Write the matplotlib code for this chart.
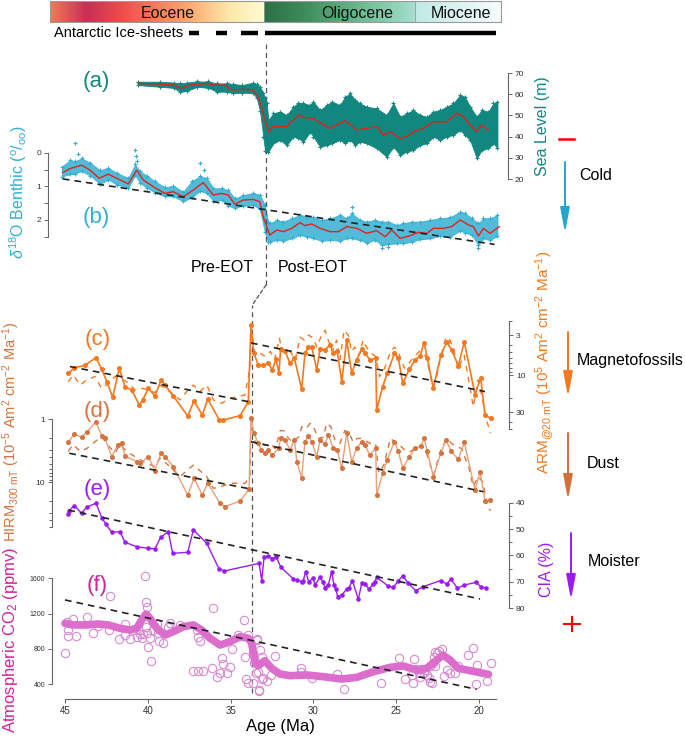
import numpy as np
import matplotlib
matplotlib.use('Agg')
import matplotlib.pyplot as plt
from matplotlib.colors import LinearSegmentedColormap
from matplotlib.patches import ConnectionPatch, FancyArrowPatch
from matplotlib.lines import Line2D
from matplotlib.ticker import FixedLocator, FixedFormatter, NullFormatter

plt.rcParams['font.family'] = ['Liberation Sans', 'DejaVu Sans']
plt.rcParams['mathtext.fontset'] = 'custom'
plt.rcParams['mathtext.rm'] = 'Liberation Sans'
plt.rcParams['mathtext.it'] = 'Liberation Sans:italic'
plt.rcParams['mathtext.bf'] = 'Liberation Sans:bold'

# ---------------- data ----------------
epochs = ['Eocene', 'Oligocene', 'Miocene']
epoch_edges = [0, 47.4, 80.9, 100]          # % along the time bar
epoch_label_x = [26.2, 68.1, 91.1]
epoch_colors = [
    ['#f47a58', '#c92f55', '#ee4b4c', '#fb7c58', '#fcae74', '#fde6a8', '#fffbd2'],
    ['#2c6f47', '#3d8a59', '#58aa7b', '#7cc7a4', '#a6dfd0'],
    ['#bfeae5', '#dcf4f1', '#f7fdfc'],
]

ice_dashed = [(37.94, 37.39), (36.46, 35.85), (35.08, 34.14)]
ice_solid = (33.75, 21.02)
eot_age = 33.7

# (a) sea level: scatter envelope + smoothed curve
sl_age = [40.74, 39.54, 38.80, 38.44, 38.07, 37.50, 36.88, 36.40, 35.87, 35.50, 35.00, 34.40, 34.20, 34.03, 33.85, 33.75,
          33.66, 33.57, 33.30, 32.93, 32.56, 32.19, 31.92, 31.64, 31.27, 31.09, 30.72, 30.35, 30.08, 29.62, 29.34, 29.07,
          28.79, 28.52, 28.15, 27.60, 27.05, 26.68, 26.31, 25.94, 25.58, 25.21, 24.84, 24.47, 24.11, 23.74, 23.37, 23.00,
          22.73, 22.45, 22.08, 21.81, 21.44, 21.16, 20.94]
sl_hi = [65.9, 65.9, 65.5, 65.1, 65.5, 66.0, 66.0, 65.1, 65.1, 64.8, 64.3, 65.5, 64.8, 63.5, 60.4, 58.0,
         55.7, 47.8, 51.0, 51.8, 50.2, 54.1, 56.0, 55.7, 54.9, 56.5, 52.5, 54.9, 56.5, 54.9, 58.8, 60.4,
         57.3, 55.7, 54.1, 53.3, 50.2, 55.7, 49.4, 51.0, 52.5, 50.2, 49.4, 51.8, 52.5, 54.1, 55.7, 59.6,
         58.8, 54.1, 49.4, 52.5, 51.8, 55.7, 56.5]
sl_lo = [64.3, 63.5, 63.0, 61.2, 61.5, 63.5, 63.0, 61.2, 61.2, 60.4, 60.8, 60.4, 58.0, 52.0, 40.0, 33.0,
         33.7, 32.9, 36.8, 38.4, 36.0, 40.0, 39.2, 37.6, 42.3, 40.0, 35.2, 36.0, 36.8, 38.4, 36.8, 38.4,
         36.0, 37.6, 36.8, 34.5, 30.5, 35.2, 31.3, 32.9, 33.7, 36.0, 36.8, 40.0, 38.4, 40.0, 40.8, 43.1,
         40.8, 38.4, 29.7, 33.7, 34.5, 36.8, 34.5]
sl_sm_age = [40.76, 39.54, 38.8, 38.35, 37.9, 36.97, 36.6, 35.96, 35.6, 34.77, 34.4, 34.13, 33.85, 33.57, 33.3,
             33.1, 32.56, 31.9, 31.64, 31.1, 30.72, 30.17, 29.34, 28.7, 28.15, 27.6, 27.23, 26.86, 26.31, 25.94,
             25.58, 25.03, 24.48, 23.74, 23.19, 22.82, 22.45, 22.09, 21.81, 21.45]
sl_sm = [65.1, 64.8, 64.3, 62.8, 64.3, 65.1, 64.3, 64.3, 62.0, 62.3, 62.0, 58.8, 51.0, 42.3, 44.7,
         44.7, 44.7, 50.2, 49.1, 48.6, 46.6, 43.9, 47.5, 43.1, 43.9, 44.7, 40.8, 42.3, 39.2, 40.0,
         42.3, 43.9, 47.0, 47.0, 51.0, 49.4, 45.5, 42.3, 45.5, 43.1]

# (b) benthic d18O: scatter envelope, isolated outliers, smoothed curve
d18_age = [44.96, 44.5, 44.23, 43.86, 43.4, 42.85, 42.39, 41.93, 41.29, 40.92, 40.65, 40.28, 39.82, 39.27, 38.81,
           38.26, 37.8, 37.34, 36.97, 36.6, 36.15, 35.79, 35.42, 34.96, 34.41, 34.04, 33.77, 33.59, 33.48, 33.11,
           32.74, 32.28, 31.82, 31.45, 31.09, 30.63, 30.17, 29.62, 29.25, 28.98, 28.52, 28.15, 27.69, 27.32, 26.96,
           26.50, 26.13, 25.67, 25.21, 24.66, 24.11, 23.55, 23.00, 22.73, 22.36, 21.99, 21.72, 21.35, 20.94]
d18_top = [0.42, 0.22, 0.25, 0.17, 0.30, 0.52, 0.45, 0.60, 0.75, 0.35, 0.55, 0.68, 0.85, 1.03, 0.98,
           1.16, 0.85, 0.70, 0.75, 1.06, 1.06, 1.11, 1.36, 1.26, 1.20, 1.25, 1.55, 2.05, 2.10, 2.00,
           2.05, 1.95, 1.85, 1.90, 1.92, 2.00, 1.95, 1.85, 1.95, 1.80, 2.00, 2.05, 2.00, 2.05, 2.05,
           2.15, 2.10, 2.05, 2.05, 2.00, 1.95, 1.92, 1.75, 1.80, 1.95, 2.10, 1.95, 1.95, 1.85]
d18_bot = [0.71, 0.64, 0.62, 0.55, 0.68, 0.93, 0.80, 0.95, 1.05, 0.66, 0.90, 1.04, 1.19, 1.30, 1.30,
           1.45, 1.33, 1.14, 1.20, 1.44, 1.40, 1.58, 1.64, 1.58, 1.55, 1.68, 2.35, 2.65, 2.65, 2.60,
           2.62, 2.55, 2.45, 2.50, 2.55, 2.62, 2.60, 2.62, 2.55, 2.55, 2.60, 2.68, 2.60, 2.75, 2.72,
           2.70, 2.70, 2.65, 2.58, 2.55, 2.48, 2.50, 2.32, 2.38, 2.45, 2.75, 2.55, 2.60, 2.48]
d18_out_age = [44.23, 44.05, 40.92, 40.88, 40.8, 37.34, 37.1, 28.98, 27.32, 26.96, 21.99]
d18_out = [-0.28, 0.05, -0.08, 0.10, 0.25, 0.32, 0.50, 1.61, 2.85, 2.80, 2.85]
d18_sm_age = [44.9, 44.5, 43.86, 43.4, 42.9, 42.4, 41.93, 41.29, 40.83, 40.47, 39.92, 39.28, 38.82, 38.26, 37.71,
              37.16, 36.61, 36.15, 35.79, 35.42, 34.96, 34.41, 34.04, 33.86, 33.49, 33.11, 32.74, 32.28, 31.82,
              31.55, 31.18, 30.72, 30.17, 29.71, 29.25, 28.70, 28.15, 27.60, 27.14, 26.77, 26.31, 25.76, 25.30,
              24.84, 24.47, 23.92, 23.46, 23.00, 22.54, 22.27, 21.99, 21.72, 21.35, 20.84]
d18_sm = [0.59, 0.47, 0.37, 0.52, 0.76, 0.64, 0.76, 0.93, 0.52, 0.81, 1.01, 1.21, 1.16, 1.31, 1.11,
          0.89, 1.26, 1.21, 1.26, 1.53, 1.41, 1.39, 1.46, 1.90, 2.45, 2.30, 2.35, 2.25, 2.08,
          2.17, 2.12, 2.25, 2.35, 2.35, 2.20, 2.25, 2.40, 2.32, 2.50, 2.30, 2.55, 2.47, 2.37,
          2.40, 2.25, 2.25, 2.20, 2.00, 2.15, 2.20, 2.48, 2.25, 2.40, 2.20]
d18_trend = ([44.9, 21.1], [0.78, 2.73])

# (c) ARM@20mT (solid with dots, and dashed companion record)
arm_age = [44.8, 44.44, 43.79, 43.13, 42.78, 42.48, 42.12, 41.72, 41.38, 40.97, 40.51, 40.31, 39.97, 39.57, 39.2,
           38.96, 38.46, 37.59, 37.21, 36.71, 36.38, 35.68, 35.44, 34.43, 33.93, 33.77, 33.59, 33.33, 33.02, 32.72,
           32.48, 32.26, 32.08, 31.98, 31.71, 31.41, 31.15, 30.71, 30.51, 30.31, 30.1, 29.8, 29.6, 29.3, 29.0,
           28.8, 28.56, 28.29, 27.99, 27.69, 27.39, 27.08, 26.88, 26.58, 26.24, 26.18, 25.82, 25.54, 25.11, 24.87,
           24.61, 24.21, 23.86, 23.56, 23.32, 23.12, 22.76, 22.31, 21.95, 21.65, 21.25, 20.89, 20.24, 19.9, 19.64,
           19.3]
arm = [9.4, 8.0, 7.4, 5.9, 8.4, 12.1, 19.3, 8.1, 14.1, 15.5, 24.3, 20.9, 14.8, 18.6, 11.5,
       13.4, 18.6, 33.8, 21.6, 32.8, 20.5, 38.1, 38.1, 33.5, 22.0, 2.2, 5.2, 7.4, 7.4, 7.0,
       8.5, 6.2, 9.4, 4.5, 4.9, 7.0, 6.0, 15.2, 5.2, 4.3, 4.3, 8.5, 4.5, 4.7, 4.0,
       5.2, 4.9, 12.1, 3.5, 9.4, 6.3, 4.6, 5.2, 6.3, 6.0, 28.3, 14.1, 9.4, 5.2, 6.0,
       12.7, 8.4, 6.3, 5.6, 3.8, 6.0, 14.8, 5.5, 3.7, 4.7, 7.5, 3.7, 18.0, 10.7, 32.8,
       36.3]
alt_age_pre = [44.8, 44.5, 44.09, 43.69, 43.19, 42.79, 42.38, 41.98, 41.68, 41.28, 40.77, 40.27, 39.57, 39.26, 38.66,
               38.06, 37.65, 37.25, 36.85, 36.44, 36.04, 35.54, 35.04, 34.13, 33.83]
arm_alt_age = alt_age_pre + [
    33.77, 33.5, 33.2, 32.9, 32.6, 32.35, 32.05, 31.9, 31.6, 31.4, 31.1, 30.8, 30.55, 30.3, 30.0,
    29.8, 29.5, 29.3, 29.1, 28.85, 28.6, 28.4, 28.15, 27.9, 27.7, 27.5, 27.25, 27.0, 26.8, 26.5,
    26.25, 26.0, 25.7, 25.35, 25.1, 24.8, 24.5, 24.25, 23.9, 23.6, 23.3, 23.1, 22.8, 22.6, 22.35,
    22.0, 21.75, 21.5, 21.25, 20.9, 20.55, 20.35, 20.05, 19.8, 19.55, 19.3]
arm_alt = [12.1, 9.9, 13.4, 11.5, 10.4, 14.8, 12.7, 10.4, 11.0, 12.1, 15.5, 14.8, 16.8, 13.4, 16.3,
           20.9, 16.3, 13.4, 16.3, 13.4, 20.9, 23.1, 19.9, 18.0, 8.0,
           2.6, 5.5, 5.2, 5.7, 4.9, 6.3, 3.3, 4.9, 5.2, 4.9, 6.3, 3.2, 3.5, 3.0, 3.3,
           4.3, 3.0, 2.6, 3.5, 4.9, 3.5, 6.3, 2.6, 3.0, 4.9, 4.3, 5.5, 3.5, 4.3, 5.2,
           5.7, 10.4, 8.1, 5.0, 4.3, 5.5, 8.1, 7.0, 5.7, 4.9, 5.2, 7.0, 14.1, 11.5, 6.3,
           3.2, 3.5, 4.9, 8.1, 5.5, 14.1, 25.6, 11.5, 20.0, 38.1, 56.8]
arm_trend_pre = ([44.7, 33.93], [7.7, 22.0])
arm_trend_post = ([33.77, 19.64], [3.8, 16.3])

# (d) HIRM300mT
hirm_age = [44.8, 44.44, 44.0, 43.7, 43.13, 42.78, 42.58, 42.18, 41.82, 41.58, 41.38, 40.67, 40.47, 39.97, 39.57,
            39.2, 38.96, 38.46, 37.59, 37.21, 36.71, 36.38, 35.64, 35.34, 34.43, 33.89, 33.77,
            33.59, 33.33, 33.14, 32.95, 32.72, 32.48, 32.1, 31.98, 31.71, 31.41, 31.15, 31.0, 30.71, 30.51, 30.31,
            30.1, 29.8, 29.6, 29.3, 29.1, 28.8, 28.56, 28.29, 27.99, 27.69, 27.39, 27.08, 26.88, 26.6, 26.24,
            26.18, 25.82, 25.54, 25.11, 24.87, 24.61, 24.21, 23.86, 23.5, 23.32, 23.12, 22.76, 22.31, 21.99, 21.68,
            21.25, 20.89, 20.24, 19.94, 19.64, 19.32]
hirm = [2.30, 1.70, 1.92, 1.60, 1.08, 1.83, 2.0, 3.89, 2.54, 2.39, 3.80, 4.67, 4.97, 3.89, 6.49,
        3.36, 3.89, 5.61, 15.8, 8.59, 15.8, 10.3, 21.4, 24.2, 19.7, 12.8, 0.95,
        1.66, 2.39, 3.05, 3.44, 3.1, 3.66, 2.87, 2.0, 2.1, 3.05, 2.1, 4.67, 8.6, 2.25, 1.83,
        2.25, 3.89, 2.1, 2.45, 1.76, 2.87, 3.05, 5.96, 1.62, 4.67, 2.87, 2.25, 2.55, 3.66, 2.87,
        15.8, 7.15, 4.4, 2.25, 3.2, 5.96, 3.89, 2.87, 2.64, 2.0, 3.2, 8.08, 3.44, 2.1, 3.2,
        4.29, 2.3, 13.2, 6.73, 19.5, 18.8]
hirm_alt_age = alt_age_pre + [
    33.77, 33.5, 33.2, 32.9, 32.6, 32.3, 32.0, 31.8, 31.5, 31.25, 30.9, 30.7, 30.45, 30.2, 30.0,
    29.7, 29.4, 29.2, 28.95, 28.7, 28.4, 28.1, 27.85, 27.6, 27.35, 27.1, 26.85, 26.55, 26.25, 26.05,
    25.75, 25.35, 25.05, 24.7, 24.4, 24.1, 23.8, 23.5, 23.25, 23.05, 22.75, 22.55, 22.3, 21.95, 21.65,
    21.35, 21.05, 20.6, 20.35, 20.05, 19.75, 19.5, 19.3]
hirm_alt = [3.2, 2.5, 3.2, 2.9, 2.25, 1.87, 2.6, 3.4, 2.5, 3.2, 3.9, 4.67, 5.6, 4.1, 5.6,
            8.1, 6.5, 5.3, 6.5, 8.1, 12.4, 11.5, 10.3, 10.3, 8.1,
            1.0, 2.4, 2.3, 2.6, 2.4, 2.9, 1.5, 1.5, 2.0, 2.3, 1.9, 1.3, 1.4, 1.15, 1.3,
            2.0, 1.9, 1.15, 1.3, 2.1, 2.4, 1.5, 1.6, 2.3, 2.0, 2.0, 2.2, 2.4, 2.4, 7.0,
            5.3, 2.0, 2.3, 2.7, 3.2, 3.2, 2.7, 2.6, 3.0, 4.3, 7.6, 5.0, 3.0, 2.0, 2.4,
            2.7, 2.9, 6.0, 11.6, 8.1, 10.0, 24.2, 28.0]
hirm_trend_pre = ([44.74, 33.73], [3.44, 12.8])
hirm_trend_post = ([33.77, 19.74], [2.25, 14.0])

# (e) CIA
cia_age = [44.8, 44.74, 44.44, 44.0, 43.7, 43.13, 42.78, 42.52, 42.18, 41.68, 41.38, 40.67, 39.97, 39.57, 39.22,
           38.76, 38.5, 37.59, 37.25, 36.44, 35.7, 35.38, 33.28, 33.12, 32.98, 32.76, 32.48, 32.26, 31.96, 31.21,
           31.01, 30.71, 30.61, 30.47, 30.29, 30.01, 29.91, 29.6, 29.44, 29.3, 29.1, 28.9, 28.76, 28.64, 28.54,
           28.29, 27.99, 27.85, 27.65, 27.29, 27.08, 26.88, 26.64, 26.42, 26.28, 26.18, 25.48, 25.17, 24.87, 24.61,
           24.27, 23.83, 23.36, 22.31, 21.95, 21.7, 21.3, 20.88, 20.19, 19.89, 19.59]
cia = [44.3, 43.0, 41.1, 44.0, 41.7, 40.2, 45.7, 48.2, 51.2, 51.0, 55.0, 56.7, 57.3, 57.5, 53.1,
       51.0, 59.2, 58.8, 50.3, 55.4, 65.1, 65.9, 63.0, 69.5, 60.7, 60.2, 61.2, 60.4, 64.5, 68.9,
       69.3, 69.9, 69.5, 66.1, 69.9, 68.6, 71.2, 68.3, 69.9, 72.2, 71.2, 66.1, 71.2, 72.8, 75.6,
       75.0, 72.8, 72.2, 69.5, 76.6, 70.5, 70.8, 72.8, 70.9, 69.9, 68.3, 71.6, 72.1, 69.5, 67.8,
       70.5, 73.3, 71.8, 69.5, 70.8, 69.0, 72.4, 71.2, 70.2, 71.8, 72.4]
cia_trend = ([44.8, 19.94], [42.8, 76.5])

# (f) atmospheric CO2
co2_sm_age = [45.0, 44.5, 43.69, 42.99, 42.38, 41.68, 41.07, 40.67, 40.37, 40.11, 39.87, 39.46, 38.96, 38.46, 37.86,
              37.25, 36.75, 36.24, 35.64, 35.04, 34.43, 33.93, 33.73, 33.53, 33.33, 32.93, 32.52, 32.02, 31.42,
              30.41, 29.41, 28.3, 27.39, 26.38, 25.37, 24.57, 23.76, 23.16, 22.66, 22.19, 21.75, 21.25, 20.54, 19.43]
co2_sm = [1090, 1072, 1072, 1083, 1072, 1034, 1015, 1034, 1128, 1196, 1147, 1034, 958, 996, 1053,
          1072, 1015, 921, 845, 883, 939, 921, 870, 650, 611, 668, 581, 517, 498,
          506, 487, 460, 479, 543, 592, 607, 562, 581, 656, 732, 675, 581, 555, 513]
co2_pt_age = [45.0, 44.9, 44.8, 44.8, 44.5, 44.35, 43.65, 43.33, 42.99, 42.28,
              42.32, 41.74, 41.38, 41.38, 41.07, 40.87, 40.67, 40.57, 40.47, 40.37,
              40.27, 40.17, 40.11, 40.07, 40.11, 40.03, 39.97, 39.87, 39.83, 39.67,
              39.46, 39.36, 39.3, 39.06, 38.76, 38.66, 38.05, 37.05, 36.95, 36.85,
              37.25, 36.95, 36.65, 36.04, 36.14, 35.84, 35.64, 35.54, 35.48, 35.24,
              35.04, 34.94, 34.53, 34.19, 34.13, 34.07, 33.93, 33.93, 33.63, 33.43,
              33.33, 33.23, 33.27, 33.13, 33.07, 32.82, 33.38, 33.63, 33.59, 33.3,
              33.46, 33.12, 32.57, 32.31, 30.77, 30.77, 30.1, 28.59, 28.14, 25.92,
              24.81, 24.45, 24.05, 23.99, 23.91, 23.81, 23.65, 23.55, 23.45, 23.34,
              23.24, 23.14, 23.04, 22.94, 22.84, 22.94, 22.78, 22.74, 22.64, 22.54,
              22.44, 22.23, 22.64, 22.09, 21.93, 21.78, 21.48, 21.28, 20.66, 20.38,
              20.12, 20.19, 19.53, 19.26]
co2_pt = [751, 1109, 1015, 947, 1136, 947, 1166, 977, 1060, 1400,
          1015, 909, 1083, 958, 909, 1015, 939, 1015, 970, 921,
          970, 1626, 1336, 1279, 1053, 977, 826, 921, 668, 1015,
          1079, 977, 894, 864, 1053, 1090, 1072, 1015, 939, 894,
          551, 551, 551, 1268, 581, 487, 532, 694, 630, 532,
          600, 796, 958, 1128, 713, 457, 958, 419, 411, 902,
          543, 788, 336, 713, 468, 441, 909, 758, 638, 328,
          532, 460, 506, 725, 581, 543, 468, 517, 347, 411,
          694, 460, 506, 411, 683, 574, 532, 487, 574, 525,
          562, 506, 468, 430, 419, 607, 638, 713, 770, 751,
          781, 796, 607, 498, 562, 532, 525, 607, 732, 807,
          619, 400, 441, 645]
co2_trend = ([45.0, 20.14], [1355, 343])

age_ticks = [45, 40, 35, 30, 25, 20]

# ---------------- colours ----------------
c_sl = '#12877f'
c_d18 = '#32afd2'
c_red = '#e3211c'
c_arm = '#f47920'
c_hirm = '#d5743f'
c_hirm_line = '#e8a07a'
c_cia = '#9b1cf0'
c_co2 = '#d0239c'
c_co2_line = '#dc6dcd'
c_co2_pt = '#da8ad3'
c_spine = '#666666'

W, H = 685, 739


def box(x0, y0, x1, y1):
    # pixel box (origin top-left) -> figure fraction rect
    return [x0 / W, 1 - y1 / H, (x1 - x0) / W, (y1 - y0) / H]


def fpt(x, y):
    return x / W, 1 - y / H


def tick_style(ax, axis='y', size=6):
    ax.tick_params(axis=axis, which='both', labelsize=size, color=c_spine, labelcolor='#333333',
                   width=0.7, pad=2)
    ax.tick_params(axis=axis, which='major', length=3)
    ax.tick_params(axis=axis, which='minor', length=2.5)


fig = plt.figure(figsize=(6.85, 7.39), dpi=100)

# ---- epoch bar ----
ax_ep = fig.add_axes(box(50, 1, 501, 22))
for name, e0, e1, cols, xt in zip(epochs, epoch_edges[:-1], epoch_edges[1:], epoch_colors, epoch_label_x):
    cmap = LinearSegmentedColormap.from_list(name, cols)
    ax_ep.imshow(np.linspace(0, 1, 256)[None, :], cmap=cmap, aspect='auto', extent=[e0, e1, 0, 1])
    ax_ep.text(xt, 0.42, name, ha='center', va='center', fontsize=11.5, color='#111111')
for b in epoch_edges[1:-1]:
    ax_ep.axvline(b, color='#999999', lw=0.6)
ax_ep.set_xlim(0, 100)
ax_ep.set_ylim(0, 1)
ax_ep.set_xticks([])
ax_ep.set_yticks([])
for s in ax_ep.spines.values():
    s.set_color('#999999')
    s.set_linewidth(0.8)

# ---- top panel: (a) sea level and (b) d18O ----
ax_b = fig.add_axes(box(48, 40, 508, 290))
ax_a = ax_b.twinx()
ax_b.patch.set_visible(False)
ax_b.set_xlim(45.72, 20.36)
ax_b.set_ylim(4.086, -3.354)
ax_a.set_ylim(-32.36, 85.57)

ax_b.fill_between(d18_age, d18_top, d18_bot, color=c_d18, lw=0.6, alpha=0.85)
ax_b.plot(d18_age, d18_top, ls='none', marker='+', ms=3.5, mew=0.8, color=c_d18)
ax_b.plot(d18_age, d18_bot, ls='none', marker='+', ms=3.5, mew=0.8, color=c_d18)
ax_b.plot(d18_out_age, d18_out, ls='none', marker='+', ms=3.5, mew=0.8, color=c_d18)
ax_b.plot(d18_sm_age, d18_sm, color=c_red, lw=1.0)
ax_b.plot(*d18_trend, color='#222222', lw=1.2, ls=(0, (4, 3)))

ax_a.fill_between(sl_age, sl_lo, sl_hi, color=c_sl, lw=0.6)
ax_a.plot(sl_age, sl_hi, ls='none', marker='+', ms=3.5, mew=0.8, color=c_sl)
ax_a.plot(sl_age, sl_lo, ls='none', marker='+', ms=3.5, mew=0.8, color=c_sl)
ax_a.plot(sl_sm_age, sl_sm, color=c_red, lw=1.0)

for s in ['top', 'right', 'bottom']:
    ax_b.spines[s].set_visible(False)
ax_b.spines['left'].set_bounds(0, 2.5)
ax_b.spines['left'].set_color(c_spine)
ax_b.yaxis.set_major_locator(FixedLocator([0, 1, 2]))
ax_b.yaxis.set_minor_locator(FixedLocator([0.5, 1.5, 2.5]))
ax_b.yaxis.set_major_formatter(FixedFormatter(['0', '1', '2']))
ax_b.tick_params(axis='x', bottom=False, labelbottom=False)
tick_style(ax_b)
ax_b.tick_params(axis='y', which='minor', length=3)

for s in ['top', 'left', 'bottom']:
    ax_a.spines[s].set_visible(False)
ax_a.spines['right'].set_bounds(20, 70)
ax_a.spines['right'].set_color(c_spine)
ax_a.set_yticks([20, 30, 40, 50, 60, 70])
tick_style(ax_a)

# EOT line (top part)
ax_b.axvline(eot_age, ymin=0.02, ymax=0.984, color='#555555', lw=0.9, ls=(0, (4, 3)))

# Antarctic ice sheets
xt = ax_b.get_xaxis_transform()
for a0, a1 in ice_dashed:
    ax_b.plot([a0, a1], [1.028, 1.028], transform=xt, color='black', lw=3.2,
              solid_capstyle='butt', clip_on=False)
ax_b.plot(list(ice_solid), [1.028, 1.028], transform=xt, color='black', lw=3.2,
          solid_capstyle='butt', clip_on=False)
fig.text(*fpt(54, 33), 'Antarctic Ice-sheets', fontsize=10.5, va='center', ha='left')

# ---- bottom panels ----
bot = box(52, 300, 509, 699)
xlim_bot = (45.785, 18.19)

ax_t = fig.add_axes(bot)
ax_t.patch.set_visible(False)
ax_t.set_xlim(*xlim_bot)
ax_t.set_ylim(0, 1)
for s in ['top', 'left', 'right']:
    ax_t.spines[s].set_visible(False)
ax_t.spines['bottom'].set_bounds(45, 19.0)
ax_t.spines['bottom'].set_color(c_spine)
ax_t.set_yticks([])
ax_t.set_xticks(age_ticks)
tick_style(ax_t, 'x', 7)
ax_t.set_xlabel('Age (Ma)', fontsize=12, labelpad=2)
ax_t.axvline(eot_age, ymin=0.015, ymax=0.987, color='#555555', lw=0.9, ls=(0, (4, 3)))

con = ConnectionPatch(xyA=(eot_age, 0.02), coordsA=ax_b.get_xaxis_transform(),
                      xyB=(eot_age, 0.987), coordsB=ax_t.get_xaxis_transform(),
                      color='#555555', lw=0.9, ls=(0, (3, 2)))
fig.add_artist(con)


def overlay(ylim, side, log=False):
    ax = fig.add_axes(bot)
    ax.patch.set_visible(False)
    ax.set_xlim(*xlim_bot)
    if log:
        ax.set_yscale('log')
    ax.set_ylim(*ylim)
    ax.xaxis.set_visible(False)
    for s in ax.spines:
        ax.spines[s].set_visible(s == side)
    ax.spines[side].set_color(c_spine)
    ax.yaxis.set_ticks_position(side)
    tick_style(ax)
    return ax


# (c) ARM
ax_c = overlay((10 ** 5.204, 10 ** 0.0225), 'right', log=True)
ax_c.plot(arm_alt_age, arm_alt, color=c_arm, lw=1.0, ls=(0, (4, 4)))
ax_c.plot(arm_age, arm, color=c_arm, lw=1.2, marker='o', ms=2.6)
ax_c.plot(*arm_trend_pre, color='#222222', lw=1.2, ls=(0, (4, 3)))
ax_c.plot(*arm_trend_post, color='#222222', lw=1.2, ls=(0, (4, 3)))
ax_c.spines['right'].set_bounds(2, 50)
ax_c.yaxis.set_major_locator(FixedLocator([3, 10, 30]))
ax_c.yaxis.set_major_formatter(FixedFormatter(['3', '10', '30']))
ax_c.yaxis.set_minor_locator(FixedLocator([2, 4, 5, 6, 7, 8, 9, 20, 40, 50]))
ax_c.yaxis.set_minor_formatter(NullFormatter())

# (d) HIRM
ax_d = overlay((27350, 0.01268), 'left', log=True)
ax_d.plot(hirm_alt_age, hirm_alt, color=c_hirm, lw=1.0, ls=(0, (4, 4)))
ax_d.plot(hirm_age, hirm, color=c_hirm_line, lw=1.0, marker='o', ms=2.6,
          mfc=c_hirm, mec=c_hirm)
ax_d.plot(*hirm_trend_pre, color='#222222', lw=1.2, ls=(0, (4, 3)))
ax_d.plot(*hirm_trend_post, color='#222222', lw=1.2, ls=(0, (4, 3)))
ax_d.spines['left'].set_bounds(1, 50)
ax_d.yaxis.set_major_locator(FixedLocator([1, 10]))
ax_d.yaxis.set_major_formatter(FixedFormatter(['1', '10']))
ax_d.yaxis.set_minor_locator(FixedLocator([2, 3, 4, 5, 6, 7, 8, 9, 20, 30, 40, 50]))
ax_d.yaxis.set_minor_formatter(NullFormatter())

# (e) CIA
ax_e = overlay((114.4, -36.8), 'right')
ax_e.plot(cia_age, cia, color=c_cia, lw=1.0, marker='o', ms=2.3)
ax_e.plot(*cia_trend, color='#222222', lw=1.2, ls=(0, (4, 3)))
ax_e.spines['right'].set_bounds(40, 80)
ax_e.set_yticks([40, 50, 60, 70, 80])
ax_e.yaxis.set_minor_locator(FixedLocator([45, 55, 65, 75]))

# (f) CO2
ax_f = overlay((234, 4750), 'left')
ax_f.plot(co2_pt_age, co2_pt, ls='none', marker='o', ms=6, mfc='none', mec=c_co2_pt, mew=0.8)
ax_f.plot(co2_sm_age, co2_sm, color=c_co2_line, lw=5.5, solid_capstyle='round', solid_joinstyle='round')
ax_f.plot(*co2_trend, color='#222222', lw=1.2, ls=(0, (4, 3)))
ax_f.spines['left'].set_bounds(400, 1600)
ax_f.set_yticks([400, 800, 1200, 1600])
ax_f.tick_params(axis='y', labelsize=5)

# ---- labels ----
def label(x, y, s, color, size, rot=0, ha='center'):
    fig.text(*fpt(x, y), s, color=color, fontsize=size, rotation=rot, ha=ha, va='center')


label(96, 82, '(a)', c_sl, 16)
label(96, 217, '(b)', c_d18, 16)
label(98, 340, '(c)', c_arm, 16)
label(97, 412, '(d)', c_hirm, 16)
label(97, 490, '(e)', c_cia, 16)
label(97, 585, '(f)', c_co2, 16)

label(18, 192, r'$\delta^{18}$O Benthic ($^{\mathrm{o}}/_{\mathrm{oo}}$)', c_d18, 11.5, 90)
label(542, 126, 'Sea Level (m)', c_sl, 11.5, 90)
label(545, 362, r'ARM$_{\mathrm{@20\ mT}}$ (10$^{5}$ Am$^{2}$ cm$^{-2}$ Ma$^{-1}$)', c_arm, 11, 90)
label(11, 432, r'HIRM$_{\mathrm{300\ mT}}$ (10$^{-5}$ Am$^{2}$ cm$^{-2}$ Ma$^{-1}$)', c_hirm, 10.5, 90)
label(546, 569, 'CIA (%)', c_cia, 11.5, 90)
label(11, 640, r'Atmospheric CO$_{2}$ (ppmv)', c_co2, 12, 90)

label(222, 268, 'Pre-EOT', 'black', 11.5)
label(313, 268, 'Post-EOT', 'black', 11.5)

label(579, 175, 'Cold', 'black', 11.5, ha='left')
label(577, 360, 'Magnetofossils', 'black', 11.5, ha='left')
label(587, 464, 'Dust', 'black', 11.5, ha='left')
label(588, 561, 'Moister', 'black', 11.5, ha='left')


def arrow(x, y0, y1, color):
    fig.add_artist(FancyArrowPatch(fpt(x, y0), fpt(x, y1), transform=fig.transFigure,
                                   arrowstyle='-|>,head_length=1.5,head_width=0.28', mutation_scale=10,
                                   color=color, lw=1.4, shrinkA=0, shrinkB=0))


arrow(565, 162, 233, '#24a6cc')
arrow(568, 332, 397, '#f57722')
arrow(568, 433, 500, '#d36f3d')
arrow(571, 533, 600, c_cia)

# red minus / plus markers
fig.add_artist(Line2D([559 / W, 574 / W], [1 - 139 / H, 1 - 139 / H], color='red', lw=1.8))
fig.add_artist(Line2D([564 / W, 580 / W], [1 - 624 / H, 1 - 624 / H], color='red', lw=1.5))
fig.add_artist(Line2D([572 / W, 572 / W], [1 - 617 / H, 1 - 631 / H], color='red', lw=1.5))

fig.savefig('out.png', dpi=100)
